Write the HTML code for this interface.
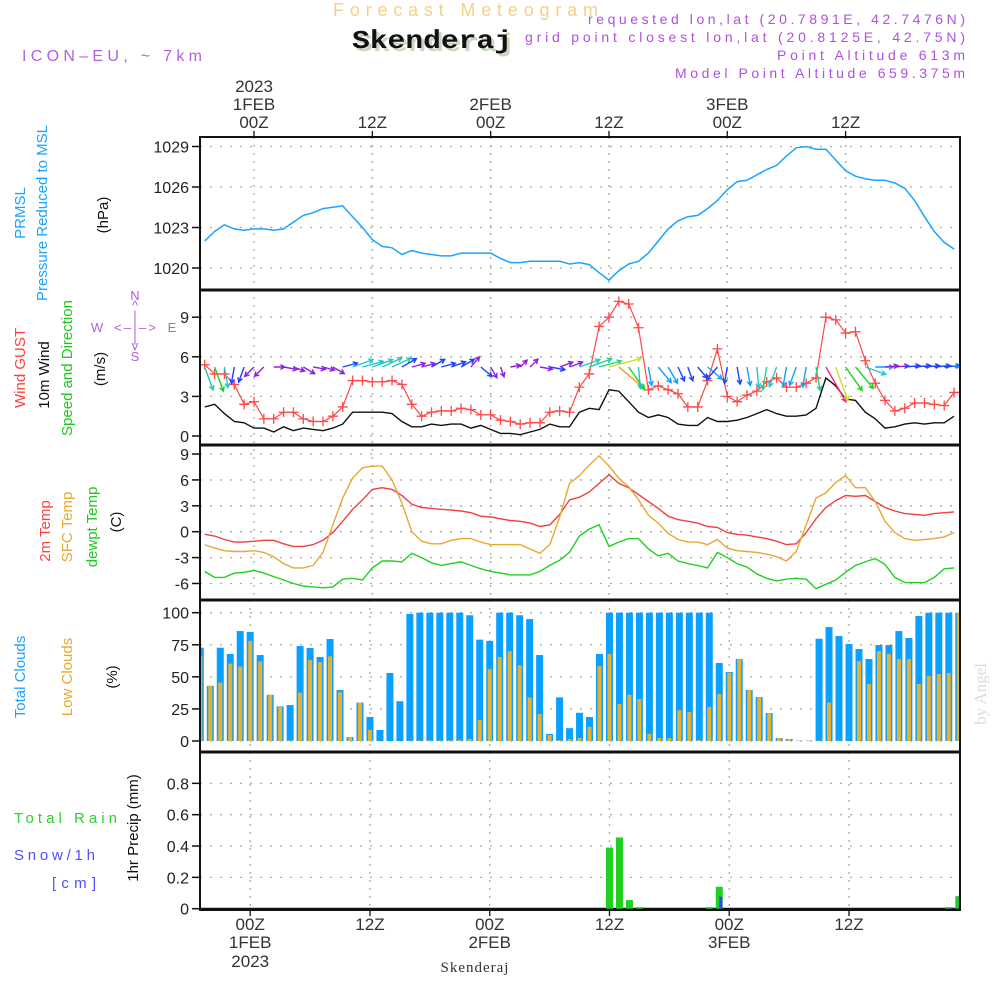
<!DOCTYPE html>
<html><head><meta charset="utf-8"><title>Forecast Meteogram Skenderaj</title>
<style>html,body{margin:0;padding:0;background:#fff;}svg{display:block;}</style></head>
<body>
<svg id="chart" width="1000" height="1000" viewBox="0 0 1000 1000" xmlns="http://www.w3.org/2000/svg" font-family="Liberation Sans, sans-serif">
<rect width="1000" height="1000" fill="#fff"/>
<!-- header -->
<text x="333" y="16" font-size="18" fill="#f5cf8c" textLength="265" lengthAdjust="spacing">Forecast Meteogram</text>
<text x="355" y="51" font-size="26" font-weight="bold" font-family="Liberation Mono, monospace" fill="#c8d8c0" textLength="160" lengthAdjust="spacingAndGlyphs">Skenderaj</text>
<text x="352" y="48" font-size="26" font-weight="bold" font-family="Liberation Mono, monospace" fill="#111" textLength="160" lengthAdjust="spacingAndGlyphs">Skenderaj</text>
<text x="588" y="24" font-size="14" fill="#b050e0" textLength="377" lengthAdjust="spacing">requested lon,lat (20.7891E, 42.7476N)</text>
<text x="525" y="42" font-size="14" fill="#b050e0" textLength="440" lengthAdjust="spacing">grid point closest lon,lat (20.8125E, 42.75N)</text>
<text x="777" y="60" font-size="14" fill="#b050e0" textLength="188" lengthAdjust="spacing">Point Altitude 613m</text>
<text x="675" y="78" font-size="14" fill="#b050e0" textLength="290" lengthAdjust="spacing">Model Point Altitude 659.375m</text>
<text x="22" y="61" font-size="16" fill="#b060e0" textLength="180" lengthAdjust="spacing">ICON–EU, ~ 7km</text>
<text transform="translate(986,694) rotate(-90)" text-anchor="middle" font-size="17" font-family="Liberation Serif, serif" fill="#d6ded6">by Angel</text>
<text x="475" y="972" text-anchor="middle" font-size="15" font-family="Liberation Serif, serif" fill="#333" letter-spacing="1">Skenderaj</text>

<!-- left labels -->
<g font-size="15">
<text transform="translate(25,213) rotate(-90)" text-anchor="middle" fill="#1aa3ff">PRMSL</text>
<text transform="translate(47,213) rotate(-90)" text-anchor="middle" fill="#1aa3ff">Pressure Reduced to MSL</text>
<text transform="translate(108,215) rotate(-90)" text-anchor="middle" fill="#111">(hPa)</text>
<text transform="translate(25,368) rotate(-90)" text-anchor="middle"><tspan fill="#ff4040">Wind GUST</tspan></text>
<text transform="translate(49,375) rotate(-90)" text-anchor="middle" fill="#111">10m Wind</text>
<text transform="translate(72,368) rotate(-90)" text-anchor="middle" fill="#20c820">Speed and Direction</text>
<text transform="translate(105,369) rotate(-90)" text-anchor="middle" fill="#111">(m/s)</text>
<text transform="translate(50,531) rotate(-90)" text-anchor="middle" fill="#ff4040">2m Temp</text>
<text transform="translate(72,527) rotate(-90)" text-anchor="middle" fill="#e8a830">SFC Temp</text>
<text transform="translate(97,527) rotate(-90)" text-anchor="middle" fill="#20c820">dewpt Temp</text>
<text transform="translate(121,522) rotate(-90)" text-anchor="middle" fill="#111">(C)</text>
<text transform="translate(25,677) rotate(-90)" text-anchor="middle" fill="#1aa3ff">Total Clouds</text>
<text transform="translate(72,677) rotate(-90)" text-anchor="middle" fill="#e8a830">Low Clouds</text>
<text transform="translate(117,677) rotate(-90)" text-anchor="middle" fill="#111">(%)</text>
<text transform="translate(138,828) rotate(-90)" text-anchor="middle" fill="#111">1hr Precip (mm)</text>
<text x="14" y="823" fill="#30d030" textLength="103" lengthAdjust="spacing">Total  Rain</text>
<text x="14" y="860" fill="#5050ff" textLength="81" lengthAdjust="spacing">Snow/1h</text>
<text x="52" y="888" fill="#5050ff" textLength="44" lengthAdjust="spacing">[cm]</text>
</g>
<g fill="#b060e0" font-size="13" text-anchor="middle">
<text x="135" y="300">N</text>
<text x="135" y="310">^</text>
<text x="135" y="320">|</text>
<text x="97" y="332">W</text>
<text x="135" y="332" textLength="42" lengthAdjust="spacing">&lt;–|–&gt;</text>
<text x="172" y="332">E</text>
<text x="135" y="342">|</text>
<text x="135" y="350">v</text>
<text x="135" y="361">S</text>
</g>
<g id="plot"></g>
</svg>
<script>
// ---- data (hour offsets from 00Z 1 FEB 2023) ----
const hours = [-5,-4,-3,-2,-1,0,1,2,3,4,5,6,7,8,9,10,11,12,13,14,15,16,17,18,19,20,21,22,23,24,25,26,27,28,29,30,31,32,33,34,35,36,37,38,39,40,41,42,43,44,45,46,47,48,49,50,51,52,53,54,55,56,57,58,59,60,61,62,63,64,65,66,67,68,69,70,71];
const pressure = [1022.0,1022.7,1023.2,1022.9,1022.8,1022.9,1022.9,1022.8,1022.9,1023.4,1023.9,1024.1,1024.4,1024.5,1024.6,1023.8,1023.0,1022.1,1021.6,1021.5,1021.0,1021.3,1021.1,1021.0,1020.9,1020.9,1021.1,1021.1,1021.1,1021.1,1020.7,1020.4,1020.4,1020.5,1020.5,1020.5,1020.5,1020.3,1020.4,1020.25,1019.65,1019.1,1019.8,1020.3,1020.5,1021.1,1022.0,1022.9,1023.5,1023.8,1023.9,1024.4,1025.0,1025.8,1026.4,1026.5,1026.9,1027.3,1027.6,1028.3,1028.9,1029.0,1028.8,1028.8,1028.0,1027.2,1026.8,1026.6,1026.5,1026.5,1026.3,1025.9,1025.0,1023.8,1022.7,1021.9,1021.4];
const gust = [5.4,4.7,4.7,3.9,2.4,2.6,1.3,1.3,1.8,1.8,1.3,1.1,1.1,1.5,2.2,4.2,4.2,4.1,4.1,4.2,3.9,2.4,1.5,1.8,1.9,1.9,2.1,2.0,1.6,1.6,1.2,1.1,0.9,1.0,1.0,1.8,1.9,1.8,3.7,4.7,8.3,9.0,10.2,10.0,8.2,3.5,3.8,3.5,3.2,2.2,2.2,4.2,6.6,3.0,2.6,3.1,3.4,4.1,4.4,3.7,3.7,4.0,4.4,9.0,8.8,7.8,7.9,5.7,4.0,2.7,1.9,2.1,2.5,2.5,2.4,2.3,3.3];
const windSpeed = [2.2,2.4,1.7,1.1,1.0,0.6,0.6,0.3,0.7,0.4,0.6,0.5,0.4,0.6,0.9,1.8,1.8,1.8,1.8,1.7,1.1,0.7,0.7,0.9,0.8,0.9,0.9,0.6,0.8,0.5,0.2,0.2,0.1,0.3,0.5,0.9,0.7,0.7,1.8,2.1,2.0,3.5,3.4,2.6,1.8,1.4,1.6,1.4,0.9,0.8,0.8,1.4,1.1,1.1,1.2,1.4,1.7,2.0,1.7,1.5,1.5,1.6,2.1,4.4,3.8,2.8,2.7,1.8,1.3,0.6,0.7,0.9,1.0,0.9,1.0,1.0,1.5];
// screen direction the arrow points to (deg, 0 = east, 90 = south)
const windDir = [70,70,80,100,110,135,135,0,10,20,30,10,15,30,-15,-20,-15,-20,-25,-25,-30,-15,-15,-30,-15,-20,-30,-50,40,60,70,-10,-45,-45,10,10,-20,-20,-20,-20,-15,-15,40,55,85,80,50,60,65,70,50,40,130,100,80,80,85,100,110,100,110,100,80,60,70,55,50,20,0,-5,-5,-5,-5,-5,-5,-5,-5];
const temp2m = [-0.3,-0.5,-0.9,-1.2,-1.2,-1.1,-1.0,-1.0,-1.4,-1.7,-1.7,-1.5,-1.0,-0.1,1.2,2.6,3.7,4.9,5.1,4.9,4.2,3.2,2.8,2.7,2.6,2.5,2.4,2.2,1.8,1.7,1.5,1.3,1.2,1.0,0.6,0.8,2.0,3.7,4.0,4.6,5.6,6.6,5.6,5.1,4.3,3.5,2.7,1.8,1.4,1.2,1.0,0.6,0.5,-0.1,-0.3,-0.4,-0.6,-0.8,-1.1,-1.5,-1.4,-0.1,1.5,2.8,3.6,4.2,4.1,4.2,3.5,2.8,2.4,2.1,2.0,1.9,2.1,2.2,2.3];
const tempSfc = [-1.5,-1.9,-2.2,-2.3,-2.3,-2.2,-2.4,-2.9,-3.7,-4.2,-4.2,-3.9,-2.4,0.8,3.9,6.2,7.4,7.6,7.6,6.0,3.3,0.0,-1.1,-1.4,-1.4,-1.0,-0.8,-0.8,-1.2,-1.5,-1.5,-1.5,-1.5,-2.0,-2.5,-1.5,1.7,5.6,6.5,7.7,8.8,7.6,6.2,5.2,3.7,1.9,1.0,-0.2,-0.9,-1.2,-1.2,-1.5,-0.9,-1.9,-2.2,-2.3,-2.4,-2.6,-2.9,-3.4,-2.3,0.8,3.9,4.5,5.7,6.5,5.1,5.1,3.5,1.2,-0.1,-0.8,-1.0,-0.9,-0.8,-0.6,-0.1];
const dewpoint = [-4.6,-5.3,-5.3,-4.8,-4.7,-4.5,-4.8,-5.2,-5.6,-6.0,-6.3,-6.4,-6.5,-6.4,-5.5,-5.4,-5.6,-4.2,-3.4,-3.4,-3.5,-2.5,-3.0,-3.6,-3.9,-3.7,-3.5,-3.9,-4.3,-4.6,-4.8,-5.0,-5.0,-5.0,-4.6,-3.9,-3.3,-2.4,-0.5,0.3,0.8,-1.7,-1.2,-0.8,-0.8,-2.0,-2.8,-2.5,-3.4,-3.7,-3.9,-4.2,-2.4,-3.0,-3.7,-4.1,-4.9,-5.4,-5.7,-5.5,-5.4,-5.5,-6.6,-6.1,-5.6,-4.7,-3.9,-3.5,-3.1,-3.8,-5.3,-5.9,-5.9,-5.9,-5.3,-4.3,-4.2];
const totalClouds = [72.7,43,72.7,67.8,85.7,85,67,36,27,28,74,72.5,65.5,79.5,39.7,3,30,18.7,8.6,53,31,99,100,100,100,100,100,98,79,78,100,100,98,95,67,5.5,34,10,22,18.7,67.8,100,100,100,100,100,100,100,100,100,100,100,60.8,53.8,64,39.7,34.3,21.8,2.3,1.5,0.3,0.3,79.7,88.8,81.8,75.6,71.7,63.9,74.8,74.8,85.7,80.3,97.4,100,100,100,100];
const lowClouds = [66.5,43,45.5,60.3,58,78,62,36,26.7,0.5,37.7,63,61.5,66,38,3,30,8.6,0,0,0,0.3,0.5,0.5,0.5,0.5,1,1.5,16.4,56,65.5,70,59,34,21,4.7,0.8,1.5,2.3,11,58.4,67.8,28.8,36,32.7,5.5,2.3,2.3,24,22.6,0.8,26.5,36.6,53.2,64,39.7,34.3,21.8,2.3,1.5,0.3,0.3,0.3,29.9,0.3,0,62.3,44.4,70.1,67.8,63.9,63.9,44.4,50.6,52.2,53,100];
const precipHours = [36,37,38,39,46,47,70,71];
const rainValues = [0.39,0.455,0.055,0.01,0.01,0.14,0.01,0.08];
const snowValues = [0,0,0,0,0,0.077,0.005,0.08];
const pressureTicks = [1020,1023,1026,1029];
const windTicks = [0,3,6,9];
const tempTicks = [-6,-3,0,3,6,9];
const cloudTicks = [0,25,50,75,100];
const precipTicks = [0,0.2,0.4,0.6,0.8];
const timeTicks = [0,12,24,36,48,60];
const timeLabels = ["00Z","12Z","00Z","12Z","00Z","12Z"];
const dateLabels = ["1FEB","","2FEB","","3FEB",""];

// ---- axis functions ----
const xL = h => 254 + h*9.86;          // line panels
const xB = h => 250.2 + h*9.98;        // bar panels
const yP = v => 268 - (v-1020)*13.5;
const yW = v => 436 - v*13.2;
const yT = v => 531.7 - v*8.63;
const yC = v => 741 - v*1.283;
const yR = v => 908.7 - v*156.7;

const NS = "http://www.w3.org/2000/svg";
const plot = document.getElementById('plot');
function mk(tag, attrs, parent){ const e=document.createElementNS(NS,tag); for(const k in attrs) e.setAttribute(k,attrs[k]); (parent||plot).appendChild(e); return e; }

const clip = mk('clipPath',{id:'pclip'}); mk('rect',{x:201,y:137,width:758,height:773},clip);

// grids
function hgrid(ticks, yf, name){
  const g = mk('g',{});
  
  
  ticks.forEach(t=>{
    const y=yf(t);
    mk('line',{x1:200,x2:960,y1:y,y2:y,stroke:'#aaa','stroke-width':1.3,'stroke-dasharray':'2,8'},g);
    mk('line',{x1:192,x2:200,y1:y,y2:y,stroke:'#111','stroke-width':1.5},g);
    const tx = mk('text',{x:189,y:y+6,'text-anchor':'end','font-size':16,fill:'#222'},g);
    tx.textContent = t;
  });
}
hgrid(pressureTicks,yP,'pressure');
hgrid(windTicks,yW,'wind');
hgrid(tempTicks,yT,'temp');
hgrid(cloudTicks,yC,'cloud');
hgrid(precipTicks,yR,'precip');
const vg = mk('g',{});


timeTicks.forEach(h=>{
  [[137,600,xL(h)],[600,910,xB(h)]].forEach(s=>mk('line',{x1:s[2],x2:s[2],y1:s[0],y2:s[1],stroke:'#aaa','stroke-width':1.3,'stroke-dasharray':'2,6'},vg));
});

function line(vals, xf, yf, color, name, w){
  const p = mk('polyline',{points:vals.map((v,i)=>xf(hours[i]).toFixed(1)+','+yf(v).toFixed(1)).join(' '),fill:'none',stroke:color,'stroke-width':w||1.4,'clip-path':'url(#pclip)'});
  
  
  return p;
}
const cg = mk('g',{'clip-path':'url(#pclip)'});


hours.forEach((h,i)=>{
  const x=xB(h);
  const b=mk('rect',{x:x-3.5,y:yC(totalClouds[i]),width:7,height:yC(0)-yC(totalClouds[i]),fill:'#0aa0ff'},cg);
  
  const l=mk('rect',{x:x-2,y:yC(lowClouds[i]),width:4,height:yC(0)-yC(lowClouds[i]),fill:'#e8b030'},cg);
  
});
const rg = mk('g',{'clip-path':'url(#pclip)'});


mk('line',{x1:200,x2:960,y1:yR(0),y2:yR(0),stroke:'#111','stroke-width':2},rg);
precipHours.forEach((h,i)=>{
  const x=xB(h);
  const r=mk('rect',{x:x-3.5,y:yR(rainValues[i]),width:7,height:yR(0)-yR(rainValues[i]),fill:'#20d020'},rg);
  
  if(snowValues[i]>0){
    const s=mk('rect',{x:x,y:yR(snowValues[i]),width:3,height:yR(0)-yR(snowValues[i]),fill:'#4040ff'},rg);
    
  }
});

line(pressure,xL,yP,'#1aa3ff','pressure-line',1.5);
line(windSpeed,xL,yW,'#111','wind-speed-line',1.4);
line(gust,xL,yW,'#ff4848','gust-line',1.2);
const gm = mk('g',{stroke:'#ff4848','stroke-width':1.3,'clip-path':'url(#pclip)'});


gust.forEach((v,i)=>{
  const x=xL(hours[i]), y=yW(v);
  mk('path',{d:`M${x-5},${y}H${x+5}M${x},${y-5}V${y+5}`},gm);
});
line(temp2m,xL,yT,'#f04040','temp-2m-line',1.4);
line(tempSfc,xL,yT,'#e8a830','temp-sfc-line',1.4);
line(dewpoint,xL,yT,'#20d020','dewpoint-line',1.4);

function wcol(s){
  if(s<0.8) return '#9020e0';
  if(s<1.3) return '#2040ff';
  if(s<1.7) return '#10a0ff';
  if(s<2.0) return '#20c8c8';
  if(s<2.3) return '#20d090';
  if(s<3.0) return '#20d020';
  if(s<3.45) return '#e8a020';
  if(s<4.0) return '#d0e020';
  return '#ff2080';
}
const ag = mk('g',{'clip-path':'url(#pclip)',fill:'none','stroke-width':1.4});


hours.forEach((h,i)=>{
  const s=windSpeed[i], a=windDir[i]*Math.PI/180, L=9+s*7;
  const x0=xL(h), y0=367, x1=x0+L*Math.cos(a), y1=y0+L*Math.sin(a);
  const hl=5, b1=a+Math.PI-0.5, b2=a+Math.PI+0.5;
  const p=mk('path',{d:`M${x0.toFixed(1)},${y0}L${x1.toFixed(1)},${y1.toFixed(1)}M${(x1+hl*Math.cos(b1)).toFixed(1)},${(y1+hl*Math.sin(b1)).toFixed(1)}L${x1.toFixed(1)},${y1.toFixed(1)}L${(x1+hl*Math.cos(b2)).toFixed(1)},${(y1+hl*Math.sin(b2)).toFixed(1)}`,stroke:wcol(s)},ag);
  
});

const fr = mk('g',{fill:'none',stroke:'#111'});


mk('rect',{x:200,y:137,width:760,height:773,'stroke-width':2},fr);
[290,445,600,752].forEach(y=>mk('line',{x1:199,x2:961,y1:y,y2:y,'stroke-width':3},fr));

const tg = mk('g',{'font-size':17,fill:'#333','text-anchor':'middle'});


timeTicks.forEach((h,i)=>{
  const xt=xL(h), xb=xB(h);
  mk('line',{x1:xt,x2:xt,y1:131,y2:137,stroke:'#111','stroke-width':1.3},tg);
  mk('line',{x1:xb,x2:xb,y1:910,y2:916,stroke:'#111','stroke-width':1.3},tg);
  mk('text',{x:xt,y:128},tg).textContent=timeLabels[i];
  mk('text',{x:xb,y:930},tg).textContent=timeLabels[i];
  if(dateLabels[i]){
    mk('text',{x:xt,y:110},tg).textContent=dateLabels[i];
    mk('text',{x:xb,y:948},tg).textContent=dateLabels[i];
  }
});
mk('text',{x:xL(0),y:92},tg).textContent='2023';
mk('text',{x:xB(0),y:967},tg).textContent='2023';
</script>
</body></html>
